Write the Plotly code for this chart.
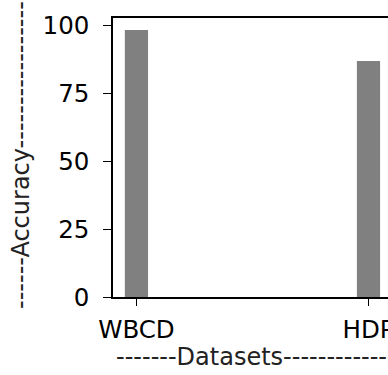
import plotly.graph_objects as go

datasets = ["WBCD", "HDP"]
accuracy = [98.2, 86.8]
y_ticks = [0, 25, 50, 75, 100]

FONT = "DejaVu Sans"

# The reference is a crop of a wider chart: the figure is made wider than
# the window and the page's overflow is hidden.
W, H = 420, 375
L, T, B = 113, 18, 78
PW, PH = W - L, H - T - B

fig = go.Figure()
fig.add_trace(go.Bar(
    x=datasets, y=accuracy, width=0.1,
    marker=dict(color="#808080", line=dict(width=0)),
    hoverinfo="skip",
))

fig.update_layout(
    width=W, height=H,
    margin=dict(l=L, r=0, t=T, b=B, autoexpand=False),
    paper_bgcolor="white", plot_bgcolor="white",
    showlegend=False,
    font=dict(family=FONT, size=24, color="black"),
)
fig.update_xaxes(
    type="category", range=[-0.101, (W - 136.5) / 232.0],
    showline=True, linecolor="black", linewidth=1.5, mirror=True,
    ticks="outside", ticklen=7, tickwidth=1.3, tickcolor="black",
    showgrid=False, zeroline=False, automargin=False,
    ticklabeloverflow="allow", ticklabelstandoff=3,
    tickfont=dict(family=FONT, size=24.5, color="black"),
)
fig.update_yaxes(
    range=[0, 102.6], tickvals=y_ticks,
    showline=True, linecolor="black", linewidth=1.5, mirror=False,
    ticks="outside", ticklen=8, tickwidth=1.3, tickcolor="black",
    showgrid=False, zeroline=False, automargin=False,
    ticklabelstandoff=9,
    tickfont=dict(family=FONT, size=24.5, color="black"),
)
fig.add_annotation(
    text="------Accuracy-----------------", textangle=-90,
    xref="paper", yref="paper", x=(21 - L) / PW, y=(297 - 155) / PH,
    xanchor="center", yanchor="middle", showarrow=False,
    font=dict(family=FONT, size=24, color="#222222"),
)
fig.add_annotation(
    text="-------Datasets-------------------------",
    xref="paper", yref="paper", x=(114 - L) / PW, y=(297 - 357) / PH,
    xanchor="left", yanchor="middle", showarrow=False,
    font=dict(family=FONT, size=24, color="#222222"),
)
fig.write_html(
    "out.html",
    config={"displayModeBar": False},
    post_script="document.body.style.margin='0';"
                "document.body.style.overflow='hidden';",
)
